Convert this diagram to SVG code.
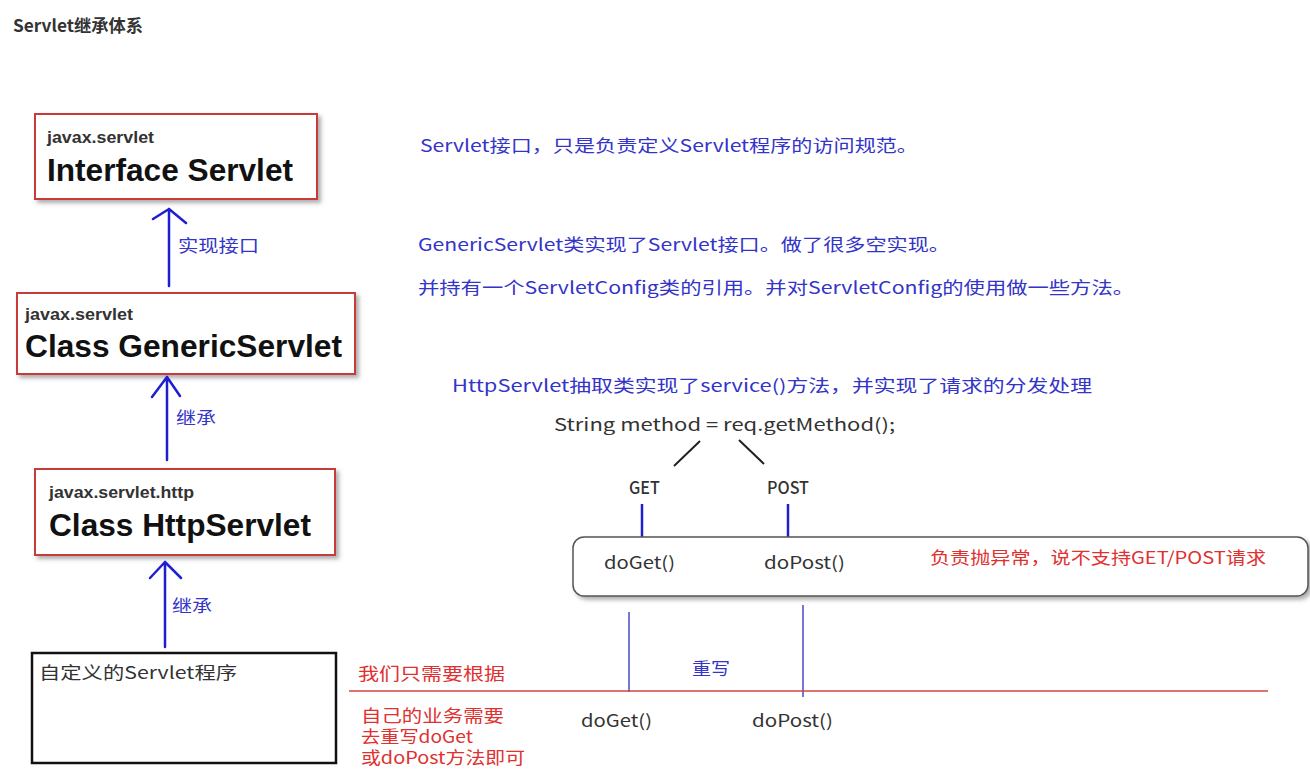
<svg xmlns="http://www.w3.org/2000/svg" width="1310" height="782" viewBox="0 0 1310 782">
<defs>
<filter id="sh" x="-5%" y="-10%" width="115%" height="130%">
<feDropShadow dx="3" dy="3" stdDeviation="2" flood-color="#777" flood-opacity="0.6"/>
</filter>
<style>
.box{fill:#fff;stroke:#c83a3a;stroke-width:2}
.pkg{font-family:"Liberation Sans",Arial,sans-serif;font-weight:bold;font-size:17px;fill:#333}
.cls{font-family:"Liberation Sans",Arial,sans-serif;font-weight:bold;font-size:32px;fill:#111}
.t{font-family:"Noto Sans CJK SC","Noto Sans",sans-serif;font-size:17px}
.blue{fill:#3434c8}
.red{fill:#e03030}
.dark{fill:#333}
.arr{stroke:#1f1fcf;stroke-width:2.5;fill:none;stroke-linecap:round;stroke-linejoin:round}
.thin{stroke:#4a4ad0;stroke-width:1.5;fill:none}
.blk{stroke:#222;stroke-width:2;fill:none}
</style>
</defs>
<rect width="1310" height="782" fill="#fff"/>
<text x="13" y="32" font-family="'Noto Sans CJK SC',sans-serif" font-weight="bold" font-size="17" fill="#333" textLength="130" lengthAdjust="spacingAndGlyphs">Servlet继承体系</text>

<g id="interface-servlet">
<rect class="box" x="35" y="114" width="282" height="85" filter="url(#sh)"/>
<text class="pkg" x="47" y="143" textLength="107" lengthAdjust="spacingAndGlyphs">javax.servlet</text>
<text class="cls" x="47" y="181" textLength="246" lengthAdjust="spacingAndGlyphs">Interface Servlet</text>
</g>
<g id="generic-servlet">
<rect class="box" x="17" y="293" width="338" height="81" filter="url(#sh)"/>
<text class="pkg" x="25" y="320" textLength="108" lengthAdjust="spacingAndGlyphs">javax.servlet</text>
<text class="cls" x="25" y="357" textLength="317" lengthAdjust="spacingAndGlyphs">Class GenericServlet</text>
</g>
<g id="http-servlet">
<rect class="box" x="35" y="469" width="300" height="86" filter="url(#sh)"/>
<text class="pkg" x="49" y="498" textLength="145" lengthAdjust="spacingAndGlyphs">javax.servlet.http</text>
<text class="cls" x="49" y="536" textLength="262" lengthAdjust="spacingAndGlyphs">Class HttpServlet</text>
</g>
<g id="custom-servlet">
<rect x="32" y="653" width="304" height="110" fill="#fff" stroke="#111" stroke-width="2.5"/>
<text class="t dark" x="39" y="679" textLength="198" lengthAdjust="spacingAndGlyphs">自定义的Servlet程序</text>
</g>

<g id="connectors">
<path class="arr" d="M169 286 V209 M153 219 L169 209 L186 223"/>
<path class="arr" d="M167 460 V377 M152 397 L167 377 L180 396"/>
<path class="arr" d="M165 647 V562 M150 578 L165 562 L181 578"/>
<path class="blk" d="M674 466 L700 441 M739 440 L764 464"/>
<path stroke="#1f1fcf" stroke-width="2.5" d="M642 504 V541 M788 504 V540"/>
<path class="thin" d="M629 612 V692 M803 605 V697"/>
<path stroke="#d04545" stroke-width="1.5" d="M349 691 H1268"/>
</g>

<g id="labels">
<text class="t blue" x="178" y="252" textLength="81" lengthAdjust="spacingAndGlyphs">实现接口</text>
<text class="t blue" x="176" y="424" textLength="40" lengthAdjust="spacingAndGlyphs">继承</text>
<text class="t blue" x="172" y="612" textLength="40" lengthAdjust="spacingAndGlyphs">继承</text>
</g>

<g id="notes">
<text class="t blue" x="420" y="152" textLength="498" lengthAdjust="spacingAndGlyphs">Servlet接口，只是负责定义Servlet程序的访问规范。</text>
<text class="t blue" x="418" y="251" textLength="532" lengthAdjust="spacingAndGlyphs">GenericServlet类实现了Servlet接口。做了很多空实现。</text>
<text class="t blue" x="418" y="294" textLength="716" lengthAdjust="spacingAndGlyphs">并持有一个ServletConfig类的引用。并对ServletConfig的使用做一些方法。</text>
<text class="t blue" x="452" y="392" textLength="640" lengthAdjust="spacingAndGlyphs">HttpServlet抽取类实现了service()方法，并实现了请求的分发处理</text>
<text class="t dark" x="554" y="431" font-size="20" textLength="341" lengthAdjust="spacingAndGlyphs">String method = req.getMethod();</text>
<text class="t dark" x="629" y="494" font-size="21" font-weight="500" textLength="31" lengthAdjust="spacingAndGlyphs">GET</text>
<text class="t dark" x="767" y="494" font-size="21" font-weight="500" textLength="42" lengthAdjust="spacingAndGlyphs">POST</text>
</g>

<g id="dispatch-box">
<rect x="573" y="537" width="735" height="59" rx="11" fill="#fff" stroke="#555" stroke-width="1.5" filter="url(#sh)"/>
<text class="t dark" x="604" y="569" font-size="19" textLength="71" lengthAdjust="spacingAndGlyphs">doGet()</text>
<text class="t dark" x="764" y="569" font-size="19" textLength="81" lengthAdjust="spacingAndGlyphs">doPost()</text>
<text class="t red" x="930" y="564" textLength="336" lengthAdjust="spacingAndGlyphs">负责抛异常，说不支持GET/POST请求</text>
</g>

<g id="override">
<text class="t blue" x="692" y="675" font-size="16" textLength="38" lengthAdjust="spacingAndGlyphs">重写</text>
<text class="t red" x="358" y="680" textLength="147" lengthAdjust="spacingAndGlyphs">我们只需要根据</text>
<text class="t red" x="361" y="722" font-size="14" textLength="143" lengthAdjust="spacingAndGlyphs">自己的业务需要</text>
<text class="t red" x="361" y="743" font-size="14" textLength="112" lengthAdjust="spacingAndGlyphs">去重写doGet</text>
<text class="t red" x="361" y="764" font-size="14" textLength="164" lengthAdjust="spacingAndGlyphs">或doPost方法即可</text>
<text class="t dark" x="581" y="727" font-size="19" textLength="71" lengthAdjust="spacingAndGlyphs">doGet()</text>
<text class="t dark" x="752" y="727" font-size="19" textLength="81" lengthAdjust="spacingAndGlyphs">doPost()</text>
</g>
</svg>
